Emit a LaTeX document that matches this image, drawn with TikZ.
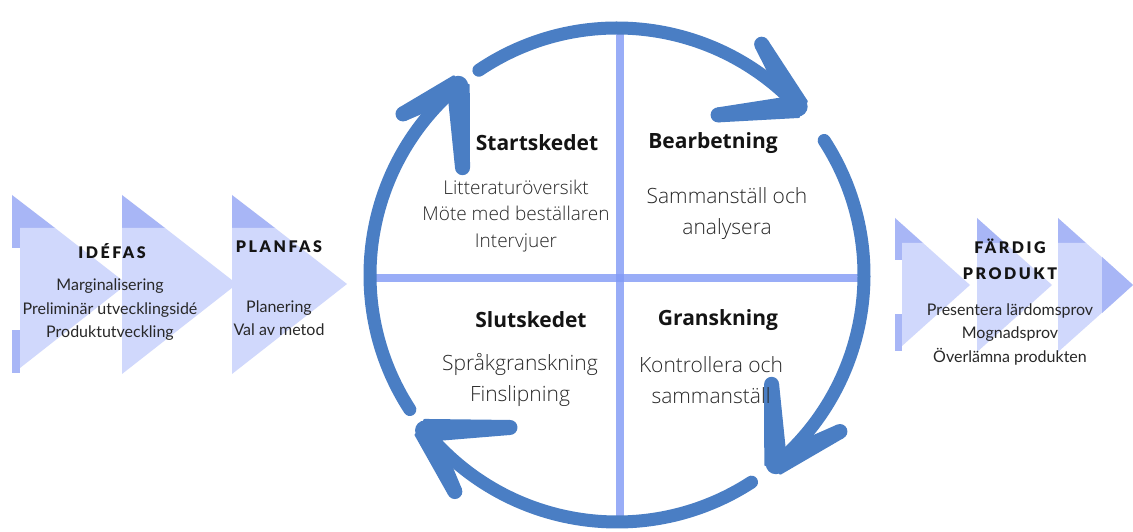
\documentclass[tikz,border=0pt]{standalone}
\usepackage{fontspec}
\setmainfont{Open Sans}
\IfFontExistsTF{Open Sans Light}{\newfontfamily\osl{Open Sans Light}}{\newfontfamily\osl{Open Sans}}
\newfontfamily\lat{Lato}
\IfFontExistsTF{Lato Black}{\newfontfamily\hdr[LetterSpace=16]{Lato Black}}{\newfontfamily\hdr[LetterSpace=18,UprightFont=*-Bold]{Lato}}
\usetikzlibrary{calc}
\definecolor{arcblue}{RGB}{74,126,196}
\definecolor{crossblue}{RGB}{128,153,246}
\definecolor{chevlight}{RGB}{208,216,252}
\definecolor{chevdark}{RGB}{168,182,246}
\definecolor{txt}{RGB}{20,20,20}
\definecolor{ltxt}{RGB}{40,40,40}
\tikzset{
  arcline/.style={draw=arcblue, line width=13pt, line cap=round},
  crossline/.style={draw=crossblue, line width=8pt, opacity=0.8},
  qtitle/.style={font=\bfseries\fontsize{21}{25}\selectfont, text=txt},
  qtext/.style={font=\osl\fontsize{21}{31}\selectfont, text=ltxt, align=center},
  qtexts/.style={font=\osl\fontsize{19}{26.5}\selectfont, text=ltxt, align=center},
  ptitle/.style={font=\hdr\fontsize{16}{26}\selectfont, text=txt, align=center},
  ptext/.style={font=\lat\fontsize{16}{23.5}\selectfont, text=ltxt, align=center},
}
% tapered arrowhead arm: tip, direction, length
\newcommand\armpoly[3]{%
  \fill[arcblue, draw=arcblue, line width=3pt, line join=round]
    ($(#1)+(#2+90:10)$) -- ($(#1)+(#2:#3)+(#2+90:6)$) -- ($(#1)+(#2:#3)+(#2-90:6)$) -- ($(#1)+(#2-90:10)$) -- cycle;
  \fill[arcblue] ($(#1)+(#2:#3)$) circle[radius=7.5];
}
\begin{document}
\begin{tikzpicture}[x=1pt,y=1pt]
\useasboundingbox (0,0) rectangle (1133,532);
\fill[white] (0,0) rectangle (1133,532);
% left chevrons
\foreach \x in {122,232}{
  \fill[chevdark] (\x,337) -- (\x+43,304) -- (\x,304) -- cycle;
  \fill[chevlight] (\x,304) -- (\x+43,304) -- (\x+115,248) -- (\x,158) -- cycle;
}
\fill[chevdark] (12,337) -- (55,304) -- (12,304) -- cycle;
\fill[chevdark] (12,304) rectangle (20,284);
\fill[chevdark] (12,202) rectangle (20,159);
\fill[chevlight] (20,304) -- (55,304) -- (127,248) -- (20,164) -- cycle;
% right chevrons
\foreach \x in {977,1058}{
  \fill[chevdark] (\x,314) -- (\x+28,289) -- (\x,289) -- cycle;
  \fill[chevlight] (\x,289) -- (\x+28,289) -- (\x+75,247) -- (\x,180) -- cycle;
}
\fill[chevdark] (895,314) -- (923,289) -- (895,289) -- cycle;
\fill[chevdark] (895,289) rectangle (902,272);
\fill[chevdark] (895,218) rectangle (902,181);
\fill[chevlight] (902,289) -- (923,289) -- (970,247) -- (902,186) -- cycle;
\fill[chevdark] (1102,275) -- (1133,247) -- (1102,219) -- cycle;
% cross
\coordinate (vt) at (620,499);
\coordinate (vb) at (620,10);
\coordinate (hl) at (366,254);
\coordinate (hr) at (870,254);
\path[crossline] (vt) -- (vb);
\path[crossline] (hl) -- (hr);
% arcs
\coordinate (C) at (617,257);
\def\R{247}
\path[arcline] ($(C)+(124:\R)$) arc[start angle=124, end angle=44, radius=\R];
\coordinate (T1) at ($(C)+(43:\R)$);
\armpoly{T1}{186}{80}\armpoly{T1}{120}{72}
\fill[arcblue] (T1) circle[radius=10];
\path[arcline] ($(C)+(33:\R)$) arc[start angle=33, end angle=-49, radius=\R];
\coordinate (T2) at ($(C)+(-50:\R)$);
\armpoly{T2}{93}{80}\armpoly{T2}{27}{72}
\fill[arcblue] (T2) circle[radius=10];
\path[arcline] ($(C)+(-57:\R)$) arc[start angle=-57, end angle=-140, radius=\R];
\coordinate (T3) at ($(C)+(-141:\R)$);
\armpoly{T3}{2}{85}\armpoly{T3}{-64}{68}
\fill[arcblue] (T3) circle[radius=10];
\path[arcline] ($(C)+(213:\R)$) arc[start angle=213, end angle=131, radius=\R];
\coordinate (T4) at ($(C)+(130:\R)$);
\armpoly{T4}{273}{82}\armpoly{T4}{207}{62}
\fill[arcblue] (T4) circle[radius=10];
% quadrant texts
\node[qtitle] (st) at (537,389) {Startskedet};
\node[qtexts] (stt) at (516,316) {Litteraturöversikt\\Möte med beställaren\\Intervjuer};
\node[qtitle] (be) at (713,389) {Bearbetning};
\node[qtext] (bet) at (727,318) {Sammanställ och\\analysera};
\node[qtitle] (sl) at (531,212) {Slutskedet};
\node[qtext] (slt) at (520,152) {Språkgranskning\\Finslipning};
\node[qtitle] (gr) at (718,212) {Granskning};
\node[qtext] (grt) at (711,152) {Kontrollera och\\sammanställ};
% phase texts
\node[ptitle] (idf) at (112,281) {IDÉFAS};
\node[ptext] (idt) at (110,222) {Marginalisering\\Preliminär utvecklingsidé\\Produktutveckling};
\node[ptitle] (plf) at (279,285) {PLANFAS};
\node[ptext] (plt) at (279,214) {Planering\\Val av metod};
\node[ptitle] (fpf) at (1010,273) {FÄRDIG\\PRODUKT};
\node[ptext] (fpt) at (1010,198) {Presentera lärdomsprov\\Mognadsprov\\Överlämna produkten};
\end{tikzpicture}
\end{document}
